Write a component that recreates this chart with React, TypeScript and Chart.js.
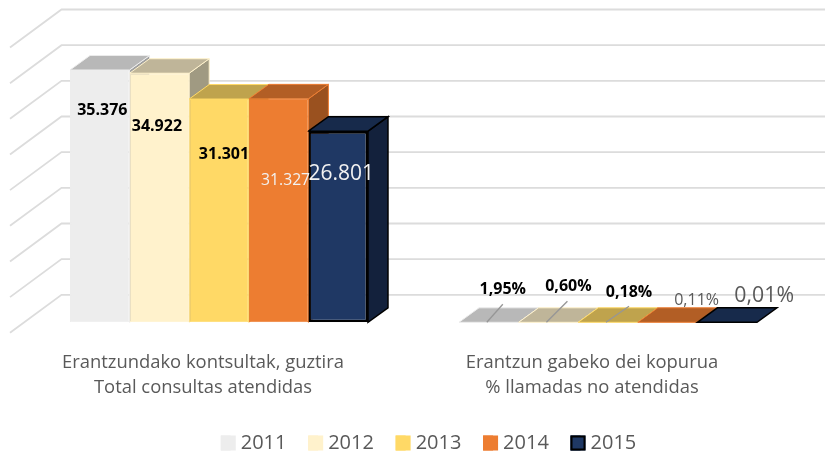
import React, { useEffect, useRef } from "react";
import { Chart, registerables } from "chart.js";

Chart.register(...registerables);

const categories = [
  ["Erantzundako kontsultak, guztira", "Total consultas atendidas"],
  ["Erantzun gabeko dei kopurua", "% llamadas no atendidas"],
];
const years = ["2011", "2012", "2013", "2014", "2015"];
const values2011 = [35376, 0.0195];
const values2012 = [34922, 0.006];
const values2013 = [31301, 0.0018];
const values2014 = [31327, 0.0011];
const values2015 = [26801, 0.0001];
const seriesValues = [values2011, values2012, values2013, values2014, values2015];

const FONT = '"Open Sans", sans-serif';
const TEXT = "#595959";
const frontColors = ["#ededed", "#fff2cc", "#ffd966", "#ed7d31", "#1f3864"];
const borderColors = ["#ededed", "#fff2cc", "#ffd966", "#ed7d31", "#000000"];
const edgeColors = ["#ededed", "#fff2cc", "#ffd966", "#ed7d31", "#000000"];
const topColors = ["#b8b8b8", "#bfb599", "#bfa34d", "#b25e25", "#172a4b"];
const sideColors = ["#a0a0a0", "#a09a82", "#a08a40", "#9a511f", "#13213c"];
const barLineWidth = [1, 1, 1, 1, 2.5];
const DEPTH_X = 20;
const DEPTH_Y = 14.5;

type LabelStyle = { dx: number; dy: number; font: string; color: string; leader?: number[] };
const labelStyles: LabelStyle[][] = [
  [
    { dx: 2.5, dy: 40, font: `bold 16px ${FONT}`, color: "#000000" },
    { dx: -2.5, dy: 53, font: `bold 16px ${FONT}`, color: "#000000" },
    { dx: 5, dy: 55, font: `bold 16px ${FONT}`, color: "#000000" },
    { dx: 7, dy: 82, font: `15.7px ${FONT}`, color: "#f2f2f2" },
    { dx: 3, dy: 43, font: `21px ${FONT}`, color: "#f2f2f2" },
  ],
  [
    { dx: 14, dy: -33, font: `bold 16px ${FONT}`, color: "#000000", leader: [-2, 0, 14, -18] },
    { dx: 20, dy: -36, font: `bold 16px ${FONT}`, color: "#000000", leader: [-2, 0, 19, -21] },
    { dx: 21, dy: -30, font: `bold 16px ${FONT}`, color: "#000000", leader: [-2, 0, 21, -16] },
    { dx: 29, dy: -22, font: `16px ${FONT}`, color: TEXT },
    { dx: 37, dy: -26, font: `21.3px ${FONT}`, color: TEXT },
  ],
];

const formatValue = (value: number, group: number) =>
  group === 0
    ? value.toLocaleString("de-DE")
    : (value * 100).toFixed(2).replace(".", ",") + "%";

const poly = (ctx: CanvasRenderingContext2D, pts: number[][], fill: string, stroke: string, lw: number) => {
  ctx.beginPath();
  pts.forEach((p, i) => (i ? ctx.lineTo(p[0], p[1]) : ctx.moveTo(p[0], p[1])));
  ctx.closePath();
  ctx.fillStyle = fill;
  ctx.fill();
  ctx.strokeStyle = stroke;
  ctx.lineWidth = lw;
  ctx.stroke();
};

const wall3d = {
  id: "wall3d",
  afterLayout(chart: any) {
    chart.legend.left += 15;
    chart.legend.right += 15;
    chart.legend.top += 6;
    chart.legend.bottom += 6;
  },
  beforeDatasetsDraw(chart: any) {
    const ctx: CanvasRenderingContext2D = chart.ctx;
    const y = chart.scales.y;
    ctx.save();
    ctx.strokeStyle = "#dcdcdc";
    ctx.lineWidth = 1.8;
    y.ticks.forEach((_t: any, i: number) => {
      const py = y.getPixelForTick(i) - 27.5;
      ctx.beginPath();
      ctx.moveTo(10, py + 38);
      ctx.lineTo(61.5, py);
      ctx.lineTo(825, py);
      ctx.stroke();
    });
    seriesValues.forEach((_v, d) => {
      chart.getDatasetMeta(d).data.forEach((bar: any) => {
        const left = bar.x - bar.width / 2;
        const right = bar.x + bar.width / 2;
        const top = bar.y;
        const bottom = bar.base;
        const lw = d === 4 ? 1.5 : 1;
        if (bottom - top > 1) {
          poly(ctx, [[right, top], [right + DEPTH_X, top - DEPTH_Y], [right + DEPTH_X, bottom - DEPTH_Y], [right, bottom]], sideColors[d], edgeColors[d], lw);
        }
        poly(ctx, [[left, top], [left + DEPTH_X, top - DEPTH_Y], [right + DEPTH_X, top - DEPTH_Y], [right, top]], topColors[d], edgeColors[d], lw);
      });
    });
    ctx.restore();
  },
  afterDatasetsDraw(chart: any) {
    const ctx: CanvasRenderingContext2D = chart.ctx;
    ctx.save();
    ctx.textAlign = "center";
    ctx.textBaseline = "middle";
    // painted left to right so that each later label sits over the earlier one
    seriesValues.forEach((vals, d) => {
      const meta = chart.getDatasetMeta(d);
      vals.forEach((v, g) => {
        const bar = meta.data[g];
        const s = labelStyles[g][d];
        if (s.leader) {
          ctx.strokeStyle = "#969696";
          ctx.lineWidth = 1.3;
          ctx.beginPath();
          ctx.moveTo(bar.x + s.leader[0], bar.y + s.leader[1]);
          ctx.lineTo(bar.x + s.leader[2], bar.y + s.leader[3]);
          ctx.stroke();
        }
        ctx.font = s.font;
        ctx.fillStyle = s.color;
        ctx.fillText(formatValue(v, g), bar.x + s.dx, bar.y + s.dy);
      });
    });
    ctx.restore();
  },
  afterDraw(chart: any) {
    // widen the legend swatches without moving their text
    const ctx: CanvasRenderingContext2D = chart.ctx;
    ctx.save();
    chart.legend.legendHitBoxes.forEach((h: any, i: number) => {
      const lw = barLineWidth[i] > 1 ? 2 : 0;
      const top = h.top + (h.height - 15) / 2;
      ctx.fillStyle = frontColors[i];
      ctx.fillRect(h.left, top, 15, 15);
      if (lw) {
        ctx.strokeStyle = "#000000";
        ctx.lineWidth = lw;
        ctx.strokeRect(h.left + 1, top + 1, 13, 13);
      }
    });
    ctx.restore();
  },
};

export default function App() {
  const ref = useRef<HTMLCanvasElement | null>(null);
  useEffect(() => {
    const chart = new Chart(ref.current!, {
      type: "bar",
      data: {
        labels: categories as any,
        datasets: years.map((year, i) => ({
          label: year,
          data: seriesValues[i],
          backgroundColor: frontColors[i],
          borderColor: borderColors[i],
          borderWidth: barLineWidth[i],
          borderSkipped: false,
          categoryPercentage: 0.766,
          barPercentage: 1,
        })),
      },
      options: {
        responsive: false,
        animation: false,
        layout: { padding: { left: 24.5, right: 22.5, top: 37, bottom: 0 } },
        scales: {
          x: {
            grid: { display: false },
            border: { display: false },
            ticks: {
              color: TEXT,
              font: { family: '"Open Sans", sans-serif', size: 18.4, lineHeight: 1.41 },
              maxRotation: 0,
              minRotation: 0,
              autoSkip: false,
              labelOffset: -16,
              padding: 19,
            },
            afterFit: (s: any) => {
              s.height = 83;
            },
          },
          y: { display: false, min: 0, max: 40000, ticks: { stepSize: 5000 } },
        },
        plugins: {
          tooltip: { enabled: false },
          legend: {
            position: "bottom",
            labels: {
              boxWidth: 10,
              boxHeight: 15,
              color: TEXT,
              padding: 21.7,
              font: { family: '"Open Sans", sans-serif', size: 20 },
              generateLabels: (c: any) =>
                (Chart.defaults.plugins.legend.labels as any)
                  .generateLabels(c)
                  .map((l: any) => ({ ...l, lineWidth: 0 })),
            },
          },
        },
      },
      plugins: [wall3d],
    } as any);
    return () => chart.destroy();
  }, []);
  return (
    <canvas
      ref={ref}
      width={825}
      height={457}
      style={{ position: "absolute", left: 0, top: 0, width: 825, height: 457, background: "#ffffff" }}
    />
  );
}
